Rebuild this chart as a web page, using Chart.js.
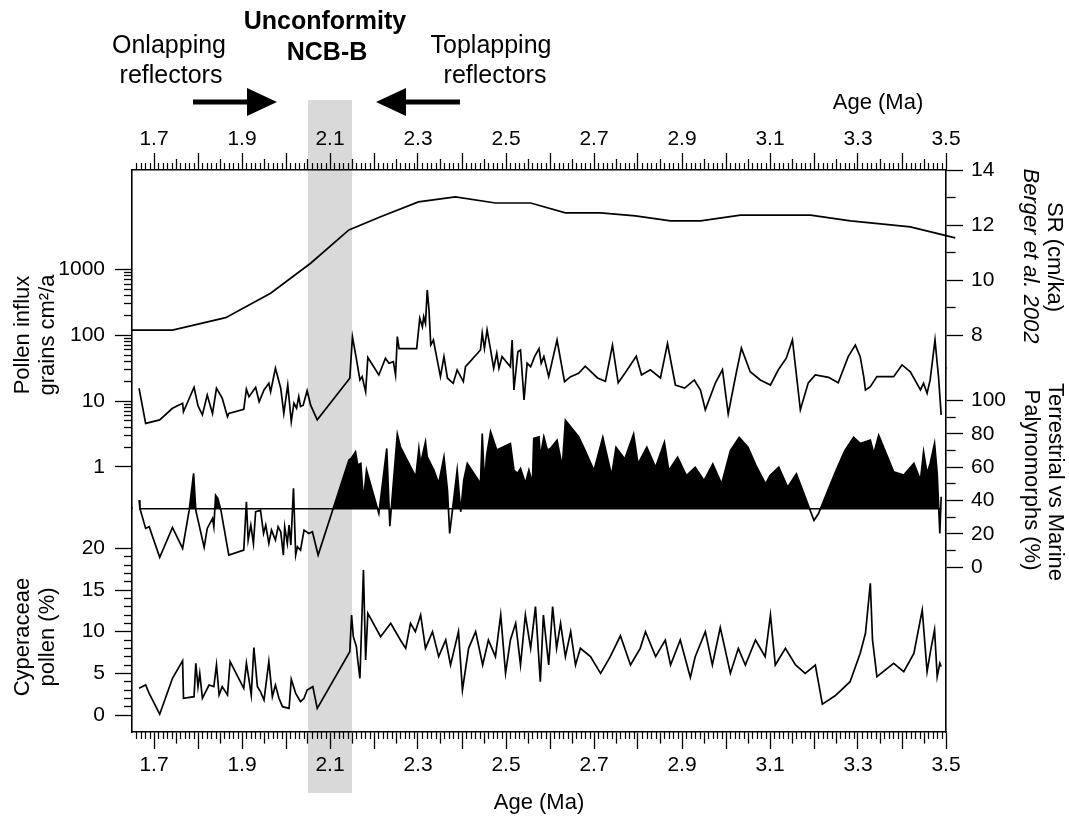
<!DOCTYPE html>
<html><head><meta charset="utf-8">
<script src="https://cdn.jsdelivr.net/npm/chart.js@4.4.1/dist/chart.umd.min.js"></script>
<style>html,body{margin:0;padding:0;background:#fff;}canvas{display:block;}</style>
</head><body>
<canvas id="c" width="1069" height="820"></canvas>
<script>
// ---------- data ----------
const ageMin = 1.65, ageMax = 3.5;
const ageLabels = [1.7, 1.9, 2.1, 2.3, 2.5, 2.7, 2.9, 3.1, 3.3, 3.5];
const unconformityBand = [2.05, 2.15];

const srAge = [1.65, 1.742, 1.863, 1.965, 2.056, 2.143, 2.215, 2.301, 2.385, 2.476, 2.556, 2.635, 2.715, 2.794, 2.874, 2.942, 3.033, 3.112, 3.192, 3.283, 3.419, 3.521];
const srVal = [8.18, 8.18, 8.63, 9.52, 10.61, 11.82, 12.3, 12.84, 13.02, 12.8, 12.8, 12.44, 12.44, 12.33, 12.15, 12.15, 12.36, 12.36, 12.36, 12.15, 11.93, 11.53];

const influxAge = [1.666, 1.681, 1.713, 1.742, 1.765, 1.767, 1.791, 1.800, 1.810, 1.821, 1.833, 1.842, 1.855, 1.867, 1.870, 1.904, 1.910, 1.916, 1.931, 1.939, 1.950, 1.961, 1.965, 1.976, 1.988, 1.995, 2.004, 2.012, 2.018, 2.024, 2.029, 2.033, 2.039, 2.048, 2.056, 2.071,
  2.145, 2.151, 2.160, 2.168, 2.173, 2.181, 2.186, 2.211, 2.226, 2.234, 2.244, 2.249, 2.253, 2.257, 2.297, 2.304, 2.310, 2.313, 2.317, 2.321, 2.325, 2.329, 2.335, 2.340, 2.351, 2.359, 2.367, 2.380, 2.389, 2.403, 2.408,
  2.442, 2.446, 2.451, 2.457, 2.465, 2.472, 2.479, 2.484, 2.491, 2.510, 2.514, 2.518, 2.527, 2.533, 2.541, 2.548, 2.556, 2.565, 2.575, 2.580, 2.586, 2.597, 2.616, 2.633, 2.647, 2.665,
  2.680, 2.708, 2.726, 2.742, 2.755, 2.771, 2.796, 2.808, 2.828, 2.851, 2.867, 2.885, 2.906, 2.928, 2.942, 2.953, 2.976, 2.992, 3.005, 3.021, 3.035, 3.055, 3.078, 3.101, 3.119, 3.137, 3.151, 3.169, 3.187, 3.203, 3.233, 3.255, 3.278, 3.294,
  3.305, 3.313, 3.317, 3.328, 3.343, 3.381, 3.400, 3.419, 3.442, 3.449, 3.457, 3.464, 3.475, 3.480, 3.483, 3.489];
const influxVal = [15.7, 4.6, 5.2, 7.8, 9.3, 6.9, 16.3, 8.5, 6.2, 12.4, 6.5, 15.7, 11.1, 5.8, 6.5, 7.5, 15.2, 11.7, 16.3, 9.8, 14.8, 18.7, 13.9, 31.6, 15.7, 6.5, 17.6, 4.9, 9.3, 7.8, 11.7, 8.3, 8.7, 14.4, 8.7, 5.2,
  22.3, 95, 44, 21, 23.6, 13.9, 46, 25, 44.9, 37.7, 39.8, 25, 95.6, 63, 63, 182, 135, 192, 152, 490, 243, 71.5, 85, 56.5, 23.6, 47.5, 22.3, 18.7, 29.8, 19.8, 33.4,
  60, 108, 63, 121, 60, 31.6, 53.5, 31.6, 47.5, 33.4, 85, 14.8, 56.5, 60, 10.4, 37.7, 33.4, 47.5, 63, 37.7, 47.5, 23.6, 85, 19.8, 23.6, 26.5,
  34, 22.5, 20, 71, 19, 27, 48, 25, 30, 22.5, 75, 17.6, 15.8, 21, 14.8, 7.4, 19, 30, 6.4, 22.5, 64, 28, 21, 17.6, 30, 45, 85, 7.4, 19, 25, 23, 19, 48, 71,
  47.5, 23.6, 14.8, 16.6, 23.6, 23.6, 35.5, 28, 14.8, 18.7, 13.2, 21, 85, 37.7, 23.6, 6.2];

const terrBaseline = 35;
const terrAge = [1.666, 1.668, 1.681, 1.689, 1.713, 1.742, 1.765, 1.780, 1.790, 1.795, 1.814, 1.821, 1.833, 1.836, 1.840, 1.845, 1.852, 1.870, 1.904, 1.910, 1.914, 1.920, 1.926, 1.931, 1.942, 1.949, 1.954, 1.961, 1.967, 1.976, 1.982, 1.988, 1.994, 1.997, 2.003, 2.007, 2.011, 2.017, 2.022, 2.026, 2.033, 2.041, 2.052, 2.060, 2.073,
  2.143, 2.148, 2.158, 2.163, 2.170, 2.176, 2.183, 2.211, 2.229, 2.236, 2.253, 2.260, 2.295, 2.302, 2.306, 2.317, 2.321, 2.336, 2.347, 2.359, 2.367, 2.372, 2.389, 2.397, 2.404, 2.412, 2.442, 2.446, 2.451, 2.456, 2.465, 2.479,
  2.510, 2.518, 2.526, 2.533, 2.544, 2.552, 2.560, 2.563, 2.575, 2.578, 2.586, 2.594, 2.601, 2.616, 2.628, 2.635, 2.665,
  2.68, 2.70, 2.72, 2.74, 2.75, 2.77, 2.79, 2.80, 2.82, 2.84, 2.86, 2.87, 2.89, 2.91, 2.93, 2.95, 2.97, 2.99, 3.01, 3.03, 3.05, 3.07, 3.09, 3.10, 3.12, 3.14, 3.16, 3.18, 3.20, 3.21, 3.23, 3.25, 3.27, 3.29,
  3.305, 3.328, 3.336, 3.347, 3.381, 3.404, 3.427, 3.442, 3.449, 3.457, 3.464, 3.474, 3.480, 3.486, 3.489];
const terrVal = [40.2, 35.2, 23.2, 24.2, 5.8, 23.8, 11.2, 34.2, 56.3, 34, 11.8, 23.2, 29.2, 24.2, 43.2, 41.3, 34.2, 7.2, 10.2, 39.2, 16.2, 25.2, 14.2, 33.2, 34.2, 20.2, 25.2, 14.2, 22.2, 16.2, 24.2, 21.2, 7.2, 24.2, 14.2, 25.2, 13.2, 47.3, 7.2, 12.2, 10.2, 22.2, 20.2, 21.2, 7.2,
  64.3, 65.3, 69.3, 61.3, 62.3, 40.2, 58.3, 32.2, 71.3, 24.6, 79.9, 72.3, 54.2, 71.3, 62.3, 75.3, 66.2, 58.3, 50.3, 66.2, 46.2, 20.2, 58.3, 33.2, 52.3, 62.3, 50.3, 80.3, 50.3, 67.3, 81.3, 70.3,
  74.3, 58.3, 56.3, 59.3, 50.3, 58.3, 50.3, 77.3, 78.3, 66.2, 78.3, 70.3, 71.3, 76.3, 60.2, 88.3, 78.3,
  70, 58, 78, 55, 72, 65, 80, 62, 72, 60, 75, 58, 66, 55, 60, 52, 62, 50, 70, 78, 72, 60, 50, 55, 60, 48, 56, 42, 28, 32, 45, 58, 70, 78,
  74.3, 76.3, 68.3, 79.3, 57.2, 55.3, 62.3, 52.3, 69.3, 56.3, 62.3, 74.3, 56.3, 20.2, 42.2];

const cypAge = [1.666, 1.681, 1.689, 1.713, 1.742, 1.765, 1.767, 1.791, 1.795, 1.800, 1.804, 1.810, 1.825, 1.836, 1.842, 1.848, 1.855, 1.867, 1.873, 1.904, 1.910, 1.916, 1.921, 1.927, 1.935, 1.942, 1.950, 1.961, 1.969, 1.976, 1.984, 1.992, 2.007, 2.012, 2.022, 2.033, 2.041, 2.048, 2.061, 2.071,
  2.145, 2.149, 2.153, 2.160, 2.163, 2.168, 2.176, 2.181, 2.186, 2.215, 2.238, 2.260, 2.272, 2.283, 2.294, 2.306, 2.317, 2.333, 2.347, 2.363, 2.374, 2.392, 2.401, 2.415, 2.431, 2.447, 2.460, 2.476, 2.488, 2.499,
  2.510, 2.522, 2.533, 2.544, 2.556, 2.567, 2.578, 2.585, 2.597, 2.606, 2.615, 2.624, 2.635, 2.647, 2.658, 2.669, 2.692, 2.715, 2.737, 2.760, 2.783, 2.805, 2.817, 2.840, 2.862, 2.874, 2.896, 2.919, 2.930, 2.953, 2.969, 2.987,
  3.010, 3.028, 3.044, 3.067, 3.089, 3.101, 3.112, 3.135, 3.158, 3.180, 3.203, 3.219, 3.248, 3.282, 3.305, 3.317, 3.328, 3.333, 3.343, 3.381, 3.404, 3.427, 3.446, 3.457, 3.466, 3.474, 3.480, 3.486, 3.489];
const cypVal = [3.2, 3.6, 2.6, 0.1, 4.4, 6.5, 2.0, 2.2, 6.2, 3.4, 5.0, 2.0, 3.6, 3.4, 6.0, 2.4, 3.4, 2.4, 6.4, 3.2, 6.2, 4.2, 2.4, 8.1, 3.4, 2.8, 1.8, 6.4, 2.2, 3.6, 2.0, 1.0, 0.8, 4.3, 2.6, 1.6, 2.0, 3.0, 3.4, 0.8,
  7.6, 12.0, 9.4, 8.2, 6.6, 4.4, 17.4, 6.6, 12.2, 9.4, 11, 9, 8, 11, 10, 12, 8, 10, 7, 9, 6, 10, 3, 8, 10, 6, 9, 7, 12, 5,
  9, 11, 6, 12, 8, 13, 4, 12, 6, 13, 8, 11, 7, 10, 6, 8, 7, 5, 7, 9.5, 6, 8, 10, 7, 9, 6, 9, 4.5, 7, 10, 6, 10.5,
  5, 8, 6, 9, 7, 12, 6, 8, 6, 5, 6, 1.3, 2.3, 4, 7.4, 9.8, 15.8, 9, 4.6, 6.2, 5.2, 7.4, 12.6, 5.2, 8, 10.2, 4.6, 6.2, 5.8];

const influxMajor = [1, 10, 100, 1000];
const cypMajor = [0, 5, 10, 15, 20];
const srMajor = [8, 10, 12, 14];
const terrMajor = [0, 20, 40, 60, 80, 100];

// ---------- helpers ----------
const FONT = "'Liberation Sans', Arial, Helvetica, sans-serif";
Chart.defaults.font.family = FONT;
Chart.defaults.color = '#000';
const near = (a, b) => Math.abs(a - b) < 1e-6;
const pts = (xs, ys) => xs.map((x, i) => ({x, y: ys[i]}));

const xTickVals = []; for (let i = 166; i <= 350; i++) xTickVals.push(i / 100);
const influxTicks = []; [1, 10, 100].forEach(d => { for (let k = 1; k <= 9; k++) influxTicks.push(d * k); }); influxTicks.push(1000);
const cypTicks = []; for (let i = 0; i <= 20; i++) cypTicks.push(i);
const srTicks = []; for (let i = 8; i <= 14; i++) srTicks.push(i);
const terrTicks = []; for (let i = 0; i <= 100; i += 10) terrTicks.push(i);

const xKind = v => { const i = Math.round(v * 100); return i % 10 === 0 ? 2 : (i % 5 === 0 ? 1 : 0); };
const isMajor = (list, v) => list.some(m => near(m, v));

const tickFont = {size: 21};
const borderOpt = {color: '#000', width: 1.6};

function xAxis(pos) {
  const top = pos === 'top';
  return {
    type: 'linear', position: pos, min: ageMin, max: ageMax,
    afterBuildTicks: s => { s.ticks = xTickVals.filter(v => xKind(v) > 0).map(v => ({value: v})); },
    afterFit: s => { s.height = 50; },
    ticks: {autoSkip: false, maxRotation: 0, minRotation: 0, padding: top ? 1 : 4, font: tickFont,
      callback: v => ageLabels.some(a => near(a, v)) ? v.toFixed(1) : ''},
    grid: {drawOnChartArea: false, tickLength: 17, tickWidth: 1.3, tickColor: '#000',
      tickBorderDash: c => { if (!c.tick) return []; return xKind(c.tick.value) === 2 ? [] : [11, 40]; },
      tickBorderDashOffset: c => { if (!c.tick || !top) return 0; return xKind(c.tick.value) === 2 ? 0 : 45; }},
    border: borderOpt
  };
}

function yAxis(type, pos, stack, weightStack, order, min, max, tickList, majors) {
  const left = pos === 'left';
  const minorLen = left ? 8 : 9;
  return {
    type, position: pos, stack, stackWeight: weightStack, weight: order, min, max,
    afterBuildTicks: s => { s.ticks = tickList.map(v => ({value: v})); },
    afterFit: s => { s.width = left ? 90 : 60; },
    ticks: {autoSkip: false, padding: left ? 10 : 8, font: tickFont,
      callback: v => isMajor(majors, v) ? String(v) : ''},
    grid: {drawOnChartArea: false, tickLength: 17, tickWidth: 1.3, tickColor: '#000',
      tickBorderDash: c => (!c.tick || isMajor(majors, c.tick.value)) ? [] : [minorLen, 40],
      tickBorderDashOffset: c => (!c.tick || isMajor(majors, c.tick.value) || !left) ? 0 : (minorLen + 40 - (17 - minorLen))},
    border: borderOpt
  };
}

const decor = {
  id: 'decor',
  beforeDraw(chart) {
    const {ctx} = chart; const xs = chart.scales.x;
    ctx.save();
    ctx.fillStyle = '#fff'; ctx.fillRect(0, 0, chart.width, chart.height);
    const x0 = xs.getPixelForValue(unconformityBand[0]), x1 = xs.getPixelForValue(unconformityBand[1]);
    ctx.fillStyle = '#d9d9d9'; ctx.fillRect(x0, 100, x1 - x0, 693);
    ctx.restore();
  },
  afterDraw(chart) {
    const {ctx} = chart;
    const xs = chart.scales.x, area = chart.chartArea;
    ctx.save();
    // minor (0.01 Ma) tick marks on the top and bottom age axes
    ctx.strokeStyle = '#000'; ctx.lineWidth = 1.2;
    ctx.beginPath();
    xTickVals.filter(v => xKind(v) === 0).forEach(v => {
      const px = Math.round(xs.getPixelForValue(v)) + 0.5;
      ctx.moveTo(px, area.bottom); ctx.lineTo(px, area.bottom + 7);
      ctx.moveTo(px, area.top); ctx.lineTo(px, area.top - 7);
    });
    ctx.stroke();

    ctx.fillStyle = '#000'; ctx.textAlign = 'center'; ctx.textBaseline = 'middle';
    ctx.font = `25px ${FONT}`;
    ctx.fillText('Onlapping', 169, 46);
    ctx.fillText('reflectors', 171, 76);
    ctx.fillText('Toplapping', 491, 46);
    ctx.fillText('reflectors', 495, 76);
    ctx.font = `bold 25px ${FONT}`;
    ctx.fillText('Unconformity', 325, 22);
    ctx.fillText('NCB-B', 327, 53);
    ctx.font = `22px ${FONT}`;
    ctx.fillText('Age (Ma)', 878, 103);
    ctx.fillText('Age (Ma)', 539, 803);
    // arrows
    const arrow = (tail, tip, y) => {
      const dir = Math.sign(tip - tail), head = 30, hh = 14, sh = 2.6;
      ctx.beginPath();
      ctx.moveTo(tail, y - sh); ctx.lineTo(tip - dir * head, y - sh); ctx.lineTo(tip - dir * head, y - hh);
      ctx.lineTo(tip, y); ctx.lineTo(tip - dir * head, y + hh); ctx.lineTo(tip - dir * head, y + sh);
      ctx.lineTo(tail, y + sh); ctx.closePath(); ctx.fill();
    };
    arrow(193, 277, 102);
    arrow(460, 376, 102);
    // rotated axis titles
    const rot = (text, x, y, ang, font) => { ctx.save(); ctx.translate(x, y); ctx.rotate(ang); ctx.font = font; ctx.fillText(text, 0, 0); ctx.restore(); };
    const L = -Math.PI / 2, R = Math.PI / 2;
    rot('Pollen influx', 23, 335, L, `22px ${FONT}`);
    rot('grains cm²/a', 48, 335, L, `22px ${FONT}`);
    rot('Cyperaceae', 23, 637, L, `22px ${FONT}`);
    rot('pollen (%)', 48, 637, L, `22px ${FONT}`);
    rot('SR (cm/ka)', 1054, 257, R, `22px ${FONT}`);
    rot('Berger et al. 2002', 1030, 256, R, `italic 22px ${FONT}`);
    rot('Terrestrial vs Marine', 1055, 482, R, `22px ${FONT}`);
    rot('Palynomorphs (%)', 1031, 480, R, `22px ${FONT}`);
    ctx.restore();
  }
};

const lineDs = (data, axis, extra) => Object.assign({data, yAxisID: axis, xAxisID: 'x', borderColor: '#000', borderWidth: 1.7,
  pointRadius: 0, tension: 0, fill: false}, extra || {});

new Chart(document.getElementById('c'), {
  type: 'line',
  data: {
    datasets: [
      lineDs(pts(srAge, srVal), 'ySR', {clip: false}),
      lineDs(pts(influxAge, influxVal), 'yInflux'),
      lineDs(pts(cypAge, cypVal), 'yCyp'),
      lineDs([{x: terrAge[0], y: terrBaseline}, {x: terrAge[terrAge.length - 1], y: terrBaseline}], 'yTerr', {borderWidth: 1.5}),
      lineDs(pts(terrAge, terrVal), 'yTerr', {fill: {target: {value: terrBaseline}, above: '#000', below: 'rgba(0,0,0,0)'}})
    ]
  },
  options: {
    responsive: false, animation: false, devicePixelRatio: 1,
    layout: {padding: {left: 42, right: 63, top: 120, bottom: 38}, autoPadding: false},
    plugins: {legend: {display: false}, tooltip: {enabled: false}},
    scales: {
      x: xAxis('bottom'),
      x2: xAxis('top'),
      yInflux: yAxis('logarithmic', 'left', 'left', 338, 1, 0.2381, 32530, influxTicks, influxMajor),
      yCyp: yAxis('linear', 'left', 'left', 224, 0, -2.04, 24.84, cypTicks, cypMajor),
      ySR: yAxis('linear', 'right', 'right', 198, 0, 6.8, 14, srTicks, srMajor),
      yTerr: yAxis('linear', 'right', 'right', 364, 1, -99.2, 119.66, terrTicks, terrMajor)
    }
  },
  plugins: [decor]
});
</script>
</body></html>
